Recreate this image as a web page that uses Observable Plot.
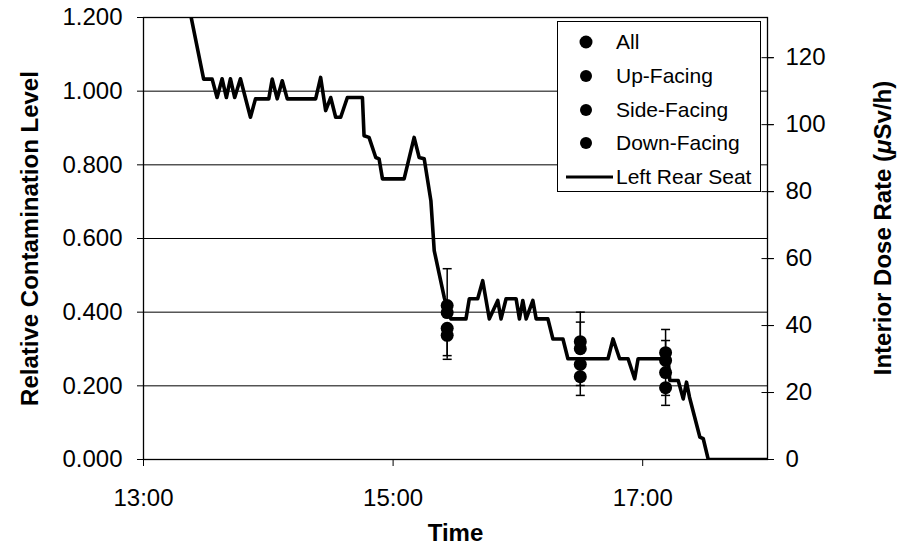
<!DOCTYPE html>
<html><head><meta charset="utf-8">
<script src="https://cdn.jsdelivr.net/npm/d3@7"></script>
<script src="https://cdn.jsdelivr.net/npm/@observablehq/plot@0.6"></script>
<style>
body{margin:0;background:#fff;font-family:"Liberation Sans",Arial,sans-serif;}
#wrap{position:relative;width:899px;height:556px;}
#legend{position:absolute;left:557px;top:21px;width:204px;height:171px;border:1px solid #000;background:#fff;box-sizing:border-box;font-size:21px;color:#000;}
.row{position:absolute;left:0;height:30px;width:200px;}
.row svg{position:absolute;left:0;top:0;}
.row span{position:absolute;left:58px;top:3px;line-height:24px;white-space:nowrap;}
</style></head><body><div id="wrap"><div id="legend"></div></div>
<script>
// Left Rear Seat dose-rate trace (µSv/h)
const lineTimes = ["13:20:00","13:28:55","13:33:00","13:35:22","13:37:47","13:39:51","13:41:47","13:43:51","13:46:36","13:51:25","13:53:50","14:00:14","14:01:53","14:04:17","14:06:42","14:09:07","14:22:45","14:25:10","14:27:34","14:30:00","14:32:24","14:34:48","14:38:01","14:45:15","14:46:02","14:48:26","14:51:40","14:53:15","14:54:54","15:05:18","15:10:07","15:12:32","15:14:57","15:18:10","15:19:46","15:24:35","15:27:48","15:35:02","15:36:38","15:40:40","15:43:05","15:46:16","15:50:19","15:51:54","15:54:19","15:59:08","16:00:44","16:02:22","16:03:58","16:07:12","16:08:47","16:14:25","16:16:50","16:21:39","16:24:03","16:43:19","16:45:44","16:48:55","16:52:58","16:56:09","16:57:47","17:12:14","17:13:01","17:17:04","17:19:29","17:21:04","17:22:30","17:27:28","17:29:07","17:31:31","18:00:00"];
const lineDose = [141,113.6,113.6,108.1,113.7,108.1,113.7,108.1,113.7,102.2,107.7,107.7,113.6,107.7,113.1,107.7,107.7,114.1,104.2,108.1,102.2,102.2,108.1,108.1,96.7,96.2,90.2,89.8,83.8,83.8,96.2,90.2,89.8,77.3,62.4,48.4,42.0,42.0,48.0,48.0,53.4,42.0,47.5,42.0,48.0,48.0,42.0,47.5,42.0,47.5,42.0,42.0,36.0,36.0,30.1,30.1,36.0,30.1,30.1,24.1,30.1,30.1,23.6,23.6,18.1,23.1,18.6,6.7,6.2,0,0];

// Sample measurements (relative contamination level)
const sampleTimes = ["15:26:00","16:30:00","17:11:00"];
const allVals  = [0.399, 0.301, 0.269];
const upVals   = [0.418, 0.320, 0.290];
const sideVals = [0.356, 0.258, 0.236];
const downVals = [0.337, 0.225, 0.195];
// visible error-bar ends
const allErr  = [null, 0.373, 0.323];
const upErr   = [0.518, 0.400, 0.353];
const sideErr = [0.282, 0.201, 0.174];
const downErr = [0.272, 0.174, 0.147];

const leftTicks = [0, 0.2, 0.4, 0.6, 0.8, 1.0, 1.2];
const rightTicks = [0, 20, 40, 60, 80, 100, 120];
const xTicks = ["13:00", "15:00", "17:00"];
const xDomain = ["13:00", "18:00"];
const doseAtOne = 110; // µSv/h corresponding to relative level 1.000

const parse = d3.utcParse("%H:%M:%S");
const parseHM = d3.utcParse("%H:%M");
const lineData = lineTimes.map((t, i) => ({t: parse(t), v: lineDose[i] / doseAtOne}));
const series = [
  {name: "All", vals: allVals, err: allErr},
  {name: "Up-Facing", vals: upVals, err: upErr},
  {name: "Side-Facing", vals: sideVals, err: sideErr},
  {name: "Down-Facing", vals: downVals, err: downErr}
];
const pts = series.flatMap(s => s.vals.map((v, i) => ({t: parse(sampleTimes[i]), v, err: s.err[i], name: s.name})));
const errs = pts.filter(d => d.err != null);
const hline = {draw(ctx, size) { const w = Math.sqrt(size / Math.PI); ctx.moveTo(-w, 0); ctx.lineTo(w, 0); }};
const xEnd = parseHM(xDomain[1]);

const chart = Plot.plot({
  width: 899, height: 556,
  marginLeft: 143, marginRight: 132, marginTop: 17, marginBottom: 97,
  x: {type: "utc", domain: xDomain.map(parseHM)},
  y: {domain: [0, 1.2]},
  style: {fontFamily: "Liberation Sans, Arial, sans-serif", fontSize: "24px", color: "#000", background: "#fff", overflow: "visible"},
  marks: [
    Plot.ruleY(leftTicks, {stroke: "#000", strokeWidth: 1}),
    Plot.frame({stroke: "#000", strokeWidth: 1.3}),
    Plot.axisY({ticks: leftTicks, tickFormat: d3.format(".3f"), tickSize: 6, tickPadding: 15, fontSize: 24, label: null}),
    Plot.axisY({anchor: "right", ticks: rightTicks.map(v => v / doseAtOne), tickFormat: d => String(Math.round(d * doseAtOne)), tickSize: 6, tickPadding: 12, fontSize: 24, label: null}),
    Plot.dot(rightTicks, {x: () => xEnd, y: v => v / doseAtOne, symbol: hline, r: 6, stroke: "#000", strokeWidth: 1}),
    Plot.axisX({ticks: xTicks.map(parseHM), tickFormat: d3.utcFormat("%H:%M"), tickSize: 7, tickPadding: 22, fontSize: 24, label: null}),
    Plot.line(lineData, {x: "t", y: "v", stroke: "#000", strokeWidth: 3.6, clip: true}),
    Plot.ruleX(errs, {x: "t", y1: "v", y2: "err", stroke: "#000", strokeWidth: 1.5}),
    Plot.dot(errs, {x: "t", y: "err", symbol: hline, r: 4.5, stroke: "#000", strokeWidth: 1.5}),
    Plot.dot(pts, {x: "t", y: "v", r: 6.5, fill: "#000", stroke: "none"}),
    Plot.text(["Relative Contamination Level"], {frameAnchor: "left", textAnchor: "middle", dx: -113, rotate: -90, fontSize: 24, fontWeight: "bold"}),
    Plot.text(["Time"], {frameAnchor: "bottom", dy: 81, fontSize: 24, fontWeight: "bold"})
  ]
});
const wrap = document.getElementById("wrap");
wrap.insertBefore(chart, wrap.firstChild);

// right axis title with italic mu
const svg = d3.select(chart);
const rt = svg.append("text")
  .attr("transform", "translate(885,228) rotate(-90)")
  .attr("text-anchor", "middle").attr("dominant-baseline", "middle")
  .attr("font-size", 24).attr("font-weight", "bold").attr("fill", "#000");
rt.append("tspan").text("Interior Dose Rate (");
rt.append("tspan").attr("font-style", "italic").text("\u03BC");
rt.append("tspan").text("Sv/h)");

// legend
const legend = document.getElementById("legend");
const rowsLegend = [...series.map(s => ({name: s.name, kind: "dot"})), {name: "Left Rear Seat", kind: "line"}];
rowsLegend.forEach((r, i) => {
  const row = document.createElement("div");
  row.className = "row";
  row.style.top = (5 + i * 33.8) + "px";
  const icon = r.kind === "dot"
    ? `<svg width="60" height="30"><circle cx="28" cy="15" r="${r.name === "All" ? 6.5 : 6}" fill="#000"/></svg>`
    : `<svg width="60" height="30"><line x1="8" x2="55" y1="15" y2="15" stroke="#000" stroke-width="3"/></svg>`;
  row.innerHTML = icon + `<span>${r.name}</span>`;
  legend.appendChild(row);
});
</script>
</body></html>
